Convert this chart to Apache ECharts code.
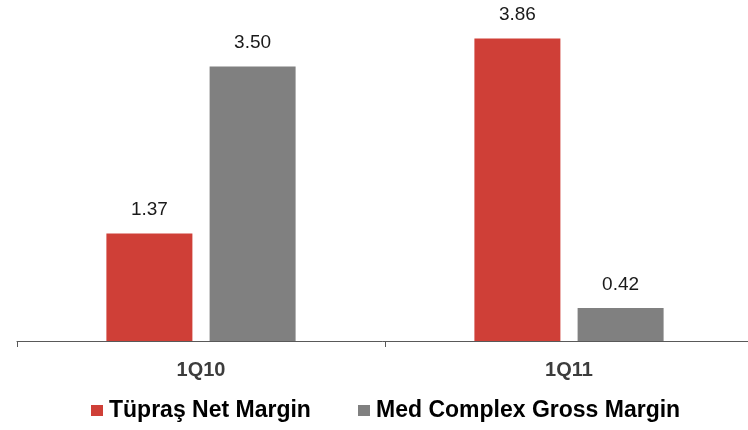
<!DOCTYPE html>
<html>
<head>
<meta charset="utf-8">
<script src="https://cdn.jsdelivr.net/npm/echarts@6/dist/echarts.min.js"></script>
<style>
  html, body { margin: 0; padding: 0; background: #fff; }
  #chart { width: 748px; height: 430px; }
</style>
</head>
<body>
<div id="chart"></div>
<script>
// Quarterly margins
var categories = ['1Q10', '1Q11'];
var tuprasNetMargin = [1.37, 3.86];
var medComplexGrossMargin = [3.50, 0.42];
var seriesNames = ['Tüpraş Net Margin', 'Med Complex Gross Margin'];

var chart = echarts.init(document.getElementById('chart'), null, { renderer: 'canvas' });

var FONT = 'Liberation Sans, Arial, sans-serif';

var labelStyle = {
  show: true,
  position: 'top',
  distance: 14,
  fontFamily: FONT,
  fontSize: 19,
  color: '#1a1a1a',
  formatter: function (p) { return p.value.toFixed(2); }
};

function legendAt(left, name) {
  return {
    left: left,
    bottom: 3,
    itemWidth: 12,
    itemHeight: 11,
    icon: 'rect',
    selectedMode: false,
    textStyle: {
      fontFamily: FONT,
      fontWeight: 'bold',
      fontSize: 23,
      color: '#000',
      padding: [0, 0, 0, 1]
    },
    data: [name]
  };
}

chart.setOption({
  animation: false,
  grid: {
    left: 17, width: 736, top: 27.4, bottom: 89,
    containLabel: false,
    outerBoundsMode: 'none'
  },
  legend: [legendAt(86, seriesNames[0]), legendAt(353, seriesNames[1])],
  xAxis: {
    type: 'category',
    data: categories,
    axisLine: { lineStyle: { color: '#595959', width: 1 } },
    axisTick: { show: true, length: 6, lineStyle: { color: '#595959' } },
    axisLabel: {
      margin: 19,
      fontFamily: FONT,
      fontWeight: 'bold',
      fontSize: 20,
      color: '#3c3c3c'
    }
  },
  yAxis: {
    type: 'value',
    min: 0,
    max: 4,
    show: false,
    splitLine: { show: false }
  },
  series: [
    {
      name: seriesNames[0],
      type: 'bar',
      data: tuprasNetMargin,
      barWidth: 86,
      barGap: '20%',
      itemStyle: { color: '#CF3F37' },
      label: labelStyle
    },
    {
      name: seriesNames[1],
      type: 'bar',
      data: medComplexGrossMargin,
      barWidth: 86,
      barGap: '20%',
      itemStyle: { color: '#808080' },
      label: labelStyle
    }
  ]
});
</script>
</body>
</html>
